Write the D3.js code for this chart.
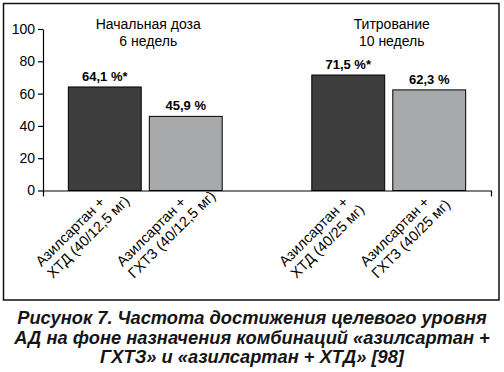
<!DOCTYPE html>
<html>
<head>
<meta charset="utf-8">
<script src="https://cdn.jsdelivr.net/npm/d3@7"></script>
<style>
  body { margin: 0; background: #fff; }
  svg { display: block; font-family: "Liberation Sans", Arial, sans-serif; }
  .axis text { font-size: 14px; fill: #000; }
  .axis path, .axis line { stroke: #000; stroke-width: 1.2; }
</style>
</head>
<body>
<div id="chart"></div>
<script>
// Data
var groups = ['start', 'titr'];
var groupTitles = [['Начальная доза', '6 недель'], ['Титрование', '10 недель']];
var series = ['xtd', 'ghtz'];
var valuesXtd = [64.1, 71.5];
var valuesGhtz = [45.9, 62.3];
var valueLabels = [['64,1 %*', '45,9 %'], ['71,5 %*', '62,3 %']];
var barLabels = [
    [['Азилсартан +', 'ХТД (40/12,5 мг)'], ['Азилсартан +', 'ГХТЗ (40/12,5 мг)']],
    [['Азилсартан +', 'ХТД (40/25 мг)'], ['Азилсартан +', 'ГХТЗ (40/25 мг)']]
];
var yTicks = [0, 20, 40, 60, 80, 100];
var caption = [
    'Рисунок 7. Частота достижения целевого уровня',
    'АД на фоне назначения комбинаций «азилсартан +',
    'ГХТЗ» и «азилсартан + ХТД» [98]'
];

var colors = {xtd: '#3e3e3e', ghtz: '#a8a9ab'};

var fullWidth = 504, fullHeight = 372;
var plot = {left: 43, right: 491, top: 29, bottom: 190.5};

var svg = d3.select('#chart').append('svg')
    .attr('width', fullWidth)
    .attr('height', fullHeight);

// Outer frame
svg.append('rect')
    .attr('x', 3.5).attr('y', 3.5)
    .attr('width', 495.5).attr('height', 296.5)
    .attr('fill', 'none')
    .attr('stroke', '#111')
    .attr('stroke-width', 1.5);

var x0 = d3.scaleBand().domain(groups)
    .range([plot.left, plot.right])
    .paddingInner(0.368).paddingOuter(0.104);
var x1 = d3.scaleBand().domain(series)
    .range([0, x0.bandwidth()])
    .paddingInner(0.1);
var y = d3.scaleLinear().domain([0, 100]).range([plot.bottom, plot.top]);

var data = groups.map(function(g, i) {
    return {group: g, i: i, bars: [
        {key: 'xtd', value: valuesXtd[i], label: valueLabels[i][0], names: barLabels[i][0]},
        {key: 'ghtz', value: valuesGhtz[i], label: valueLabels[i][1], names: barLabels[i][1]}
    ]};
});

// Y axis
svg.append('g')
    .attr('class', 'axis')
    .attr('transform', 'translate(' + plot.left + ',0)')
    .call(d3.axisLeft(y).tickValues(yTicks).tickSize(5).tickSizeOuter(0).tickPadding(3));

var gGroup = svg.selectAll('.grp').data(data).enter().append('g')
    .attr('class', 'grp')
    .attr('transform', function(d) { return 'translate(' + x0(d.group) + ',0)'; });

gGroup.selectAll('rect').data(function(d) { return d.bars; }).enter().append('rect')
    .attr('x', function(d) { return x1(d.key); })
    .attr('y', function(d) { return y(d.value); })
    .attr('width', x1.bandwidth())
    .attr('height', function(d) { return y(0) - y(d.value); })
    .attr('fill', function(d) { return colors[d.key]; })
    .attr('stroke', '#000')
    .attr('stroke-width', 1);

gGroup.selectAll('.val').data(function(d) { return d.bars; }).enter().append('text')
    .attr('class', 'val')
    .attr('x', function(d) { return x1(d.key) + x1.bandwidth() / 2; })
    .attr('y', function(d) { return y(d.value) - 6; })
    .attr('text-anchor', 'middle')
    .style('font-size', '13px')
    .style('font-weight', 'bold')
    .text(function(d) { return d.label; });

// Group titles
gGroup.append('text')
    .attr('text-anchor', 'middle')
    .style('font-size', '14px')
    .selectAll('tspan').data(function(d) { return groupTitles[d.i]; }).enter().append('tspan')
    .attr('x', x0.bandwidth() / 2 + 3)
    .attr('y', function(d, j) { return 29 + j * 16.5; })
    .text(function(d) { return d; });

// X axis
svg.append('g')
    .attr('class', 'axis')
    .attr('transform', 'translate(0,' + plot.bottom + ')')
    .call(d3.axisBottom(x0).tickValues([]).tickSizeInner(0).tickSizeOuter(6));

// Rotated bar labels
gGroup.selectAll('.lbl').data(function(d) { return d.bars; }).enter().append('g')
    .attr('class', 'lbl')
    .attr('transform', function(d) {
        return 'translate(' + (x1(d.key) + x1.bandwidth() / 2 + 1) + ',203) rotate(-45)';
    })
    .each(function(d) {
        var g = d3.select(this);
        var t1 = g.append('text')
            .attr('text-anchor', 'end')
            .style('font-size', '14.5px')
            .text(d.names[0]);
        var w = t1.node().getComputedTextLength();
        g.append('text')
            .attr('x', -w)
            .attr('y', 16.5)
            .style('font-size', '14.5px')
            .text(d.names[1]);
    });

// Caption
svg.append('text')
    .attr('text-anchor', 'middle')
    .style('font-size', '18.3px')
    .style('font-weight', 'bold')
    .style('font-style', 'italic')
    .attr('fill', '#151515')
  .selectAll('tspan').data(caption).enter().append('tspan')
    .attr('x', 252)
    .attr('y', function(d, i) { return 324 + i * 19.5; })
    .text(function(d) { return d; });
</script>
</body>
</html>
